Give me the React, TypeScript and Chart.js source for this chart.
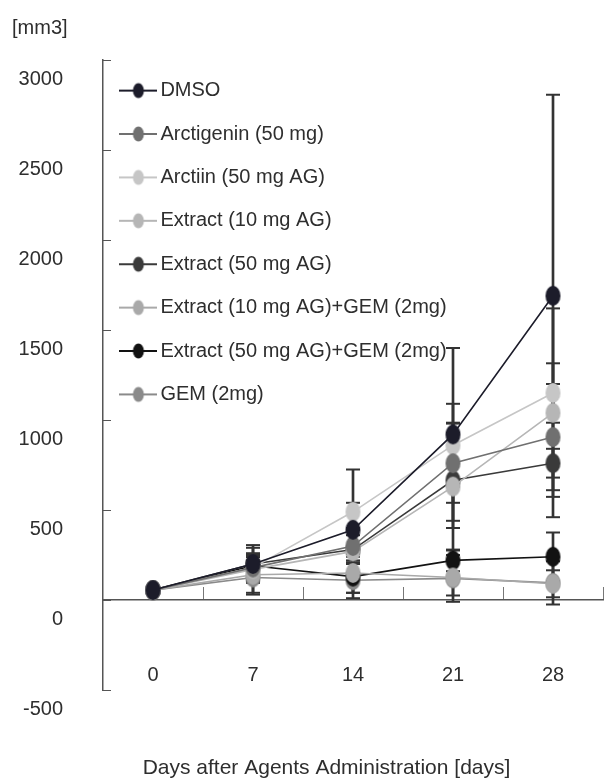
import React, { useEffect, useRef } from 'react';
import { Chart, registerables } from 'chart.js';

Chart.register(...registerables);

// Categories (days)
const days = ['0', '7', '14', '21', '28'];

// Series names
const seriesNames = [
  'DMSO',
  'Arctigenin (50 mg)',
  'Arctiin (50 mg AG)',
  'Extract (10 mg AG)',
  'Extract (50 mg AG)',
  'Extract (10 mg AG)+GEM (2mg)',
  'Extract (50 mg AG)+GEM (2mg)',
  'GEM (2mg)',
];

// Mean tumour volumes [mm3]
const dmso = [55, 200, 390, 920, 1690];
const arctigenin = [55, 180, 300, 760, 905];
const arctiin = [55, 180, 490, 860, 1150];
const extract10 = [55, 170, 270, 630, 1040];
const extract50 = [55, 200, 280, 665, 760];
const extract10Gem = [55, 140, 150, 125, 90];
const extract50Gem = [55, 190, 130, 220, 240];
const gem = [55, 125, 110, 120, 95];

// Error (SD) values
const dmsoErr = [15, 105, 150, 480, 1117];
const arctigeninErr = [12, 80, 100, 220, 295];
const arctiinErr = [12, 60, 235, 230, 165];
const extract10Err = [12, 70, 120, 355, 580];
const extract50Err = [12, 90, 80, 265, 80];
const extract10GemErr = [12, 100, 110, 100, 75];
const extract50GemErr = [12, 60, 90, 60, 135];
const gemErr = [12, 95, 100, 130, 120];

const seriesValues = [dmso, arctigenin, arctiin, extract10, extract50, extract10Gem, extract50Gem, gem];
const seriesErrors = [dmsoErr, arctigeninErr, arctiinErr, extract10Err, extract50Err, extract10GemErr, extract50GemErr, gemErr];
const seriesColors = ['#1c1c2a', '#707070', '#c6c6c6', '#b6b6b6', '#3a3a3a', '#a9a9a9', '#121212', '#8a8a8a'];

const FONT = "'Liberation Sans', Arial, sans-serif";
const TEXT = '#2e2e2e';
const AXIS = '#555555';
const ERR = '#333333';
const CLEAR = 'rgba(0,0,0,0)';

function makeEllipse(color: string, rx: number, ry: number): HTMLCanvasElement {
  const c = document.createElement('canvas');
  c.width = Math.ceil(rx * 2 + 2);
  c.height = Math.ceil(ry * 2 + 2);
  const g = c.getContext('2d')!;
  g.fillStyle = color;
  g.beginPath();
  g.ellipse(c.width / 2, c.height / 2, rx, ry, 0, 0, Math.PI * 2);
  g.fill();
  return c;
}

function makeLegendMarker(color: string): HTMLCanvasElement {
  const c = document.createElement('canvas');
  c.width = 38;
  c.height = 18;
  const g = c.getContext('2d')!;
  g.strokeStyle = color;
  g.lineWidth = 2;
  g.beginPath();
  g.moveTo(0, 9);
  g.lineTo(38, 9);
  g.stroke();
  g.fillStyle = color;
  g.beginPath();
  g.ellipse(19, 9, 5.5, 7.5, 0, 0, Math.PI * 2);
  g.fill();
  return c;
}

export default function App() {
  const ref = useRef<HTMLCanvasElement>(null);

  useEffect(() => {
    const canvas = ref.current;
    if (!canvas) return;

    const lineSets: any[] = seriesNames.map((name, i) => ({
      type: 'line',
      label: name,
      data: seriesValues[i],
      borderColor: seriesColors[i],
      backgroundColor: seriesColors[i],
      borderWidth: 1.6,
      pointStyle: makeEllipse(seriesColors[i], 7.5, 10),
      pointRadius: 8,
      fill: false,
      tension: 0,
      order: 1,
      isSeries: true,
    }));

    const stemSets: any[] = seriesNames.map((name, i) => ({
      type: 'bar',
      label: name + ' SD',
      data: seriesValues[i].map((v, j) => [v - seriesErrors[i][j], v + seriesErrors[i][j]]),
      backgroundColor: ERR,
      borderWidth: 0,
      barThickness: 2,
      grouped: false,
      order: 5,
    }));

    const capSets: any[] = seriesNames.map((name, i) => ({
      type: 'line',
      label: name + ' caps',
      data: days.flatMap((d, j) => [
        { x: d, y: seriesValues[i][j] - seriesErrors[i][j] },
        { x: d, y: seriesValues[i][j] + seriesErrors[i][j] },
      ]),
      showLine: false,
      pointStyle: 'line',
      pointRadius: 7,
      pointBorderWidth: 2,
      pointBorderColor: ERR,
      pointBackgroundColor: ERR,
      order: 4,
    }));

    const legendMarkers = seriesColors.map((c) => makeLegendMarker(c));

    const chart = new Chart(canvas, {
      type: 'line',
      data: {
        labels: days,
        datasets: [...stemSets, ...capSets, ...lineSets],
      },
      options: {
        responsive: false,
        animation: false,
        devicePixelRatio: 1,
        layout: { autoPadding: false, padding: { left: 12, right: -37, top: 0, bottom: 0 } },
        plugins: {
          tooltip: { enabled: false },
          title: {
            display: true,
            position: 'top',
            align: 'start',
            text: '[mm3]',
            color: TEXT,
            font: { family: FONT, size: 20, weight: 'normal' },
            padding: { top: 13, bottom: 20 },
          },
          subtitle: {
            display: true,
            position: 'bottom',
            text: 'Days after Agents Administration [days]',
            color: TEXT,
            font: { family: FONT, size: 21, weight: 'normal' },
            padding: { top: 65.4, bottom: -1.6 },
          },
          legend: {
            display: true,
            position: 'chartArea',
            align: 'start',
            title: { display: true, text: '', padding: { top: 56, bottom: 0 }, font: { size: 1 } },
            labels: {
              usePointStyle: true,
              pointStyleWidth: 24,
              padding: 23.4,
              color: TEXT,
              font: { family: FONT, size: 20 },
              generateLabels: (ch: any) =>
                ch.data.datasets
                  .map((ds: any, idx: number) => ({ ds, idx }))
                  .filter((o: any) => o.ds.isSeries)
                  .map((o: any, k: number) => ({
                    text: o.ds.label,
                    fillStyle: o.ds.borderColor,
                    strokeStyle: o.ds.borderColor,
                    lineWidth: 0,
                    pointStyle: legendMarkers[k],
                    hidden: false,
                    datasetIndex: o.idx,
                    fontColor: TEXT,
                  })),
            },
          },
        },
        scales: {
          x: {
            type: 'category',
            position: { y: 0 } as any,
            offset: true,
            grid: {
              offset: true,
              drawOnChartArea: false,
              drawTicks: true,
              tickLength: 63,
              tickColor: CLEAR,
            },
            border: { color: AXIS, width: 1.5 },
            ticks: {
              color: TEXT,
              font: { family: FONT, size: 20 },
              padding: 0,
              maxRotation: 0,
            },
          },
          x2: {
            type: 'category',
            labels: days,
            position: { y: 0 } as any,
            offset: true,
            grid: {
              offset: true,
              drawOnChartArea: false,
              drawTicks: true,
              tickLength: -13,
              tickWidth: 1,
              tickColor: (c: any) => (c.index === 0 || c.index >= days.length ? CLEAR : '#777777'),
            },
            border: { display: false },
            ticks: { display: false },
          },
          y: {
            type: 'linear',
            position: 'left',
            min: -500,
            max: 3000,
            afterFit: (s: any) => {
              s.width = 91;
            },
            grid: {
              drawOnChartArea: false,
              drawTicks: true,
              tickLength: -8,
              tickColor: AXIS,
              tickWidth: 1,
            },
            border: { color: AXIS, width: 1.5 },
            ticks: {
              stepSize: 500,
              color: TEXT,
              font: { family: FONT, size: 20 },
              labelOffset: 19,
              padding: 48,
              callback: (v: any) => String(v),
            },
          },
          yRightSpace: {
            type: 'linear',
            position: 'right',
            display: true,
            afterFit: (s: any) => {
              s.width = 38;
            },
            grid: { display: false, drawTicks: false },
            border: { display: false },
            ticks: { display: false },
          },
        },
      } as any,
    });

    return () => chart.destroy();
  }, []);

  return (
    <div style={{ position: 'absolute', left: 0, top: 0, width: 604, height: 779, background: '#ffffff' }}>
      <canvas ref={ref} width={604} height={779} style={{ display: 'block' }} />
    </div>
  );
}
